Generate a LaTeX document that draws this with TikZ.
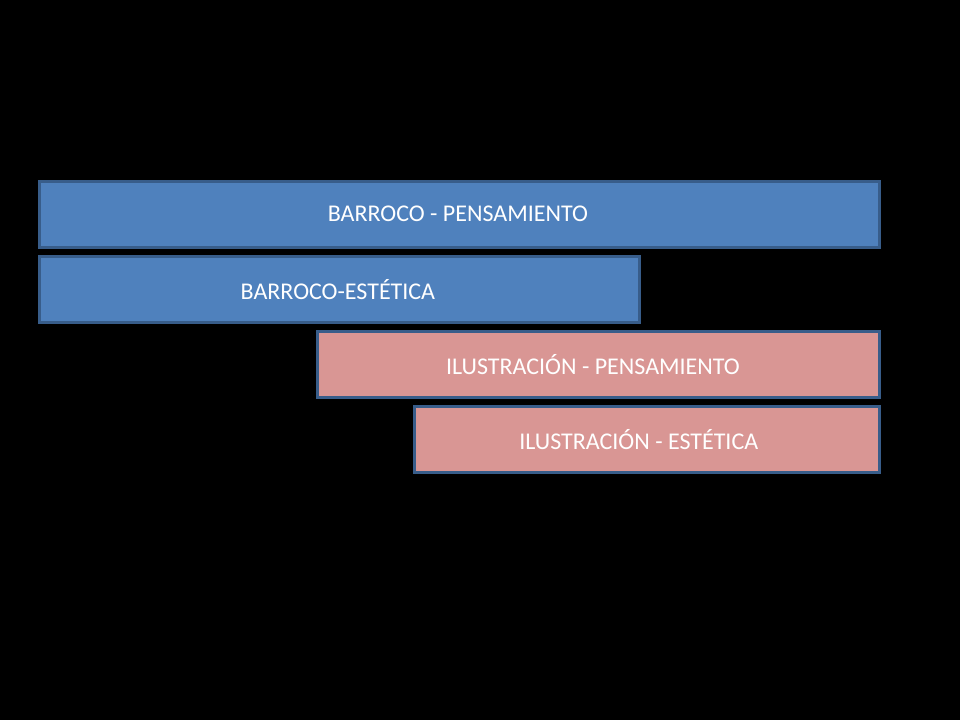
\documentclass[tikz,border=0pt]{standalone}
\usepackage{fontspec}
\setmainfont{Carlito}
\begin{document}
\begin{tikzpicture}[x=0.75pt,y=-0.75pt,
  barroco/.style={draw=barborde,line width=1.9pt,fill=azul,inner sep=0pt,anchor=north west},
  ilustra/.style={barroco,fill=rosa},
  rotulo/.style={text=white,font=\fontsize{18}{20}\selectfont}]

\definecolor{azul}{HTML}{4F81BD}
\definecolor{rosa}{HTML}{D99694}
\definecolor{barborde}{HTML}{385D8A}

\fill[black] (0,0) rectangle (960,720);
\useasboundingbox (0,0) rectangle (960,720);

\node[barroco,minimum width=840*0.75pt,minimum height=66*0.75pt] (bp) at (38,180) {};
\node[barroco,minimum width=600*0.75pt,minimum height=66*0.75pt] (be) at (38,255) {};
\node[ilustra,minimum width=562*0.75pt,minimum height=66*0.75pt] (ip) at (316,330) {};
\node[ilustra,minimum width=465*0.75pt,minimum height=66*0.75pt] (ie) at (413,405) {};

\node[rotulo] at ([xshift=-1pt]bp.center) {BARROCO - PENSAMIENTO};
\node[rotulo] at ([xshift=-1pt]be.center) {BARROCO-ESTÉTICA};
\node[rotulo] at ([xshift=-4pt]ip.center) {ILUSTRACIÓN - PENSAMIENTO};
\node[rotulo] at ([xshift=-6pt]ie.center) {ILUSTRACIÓN - ESTÉTICA};

\end{tikzpicture}
\end{document}
